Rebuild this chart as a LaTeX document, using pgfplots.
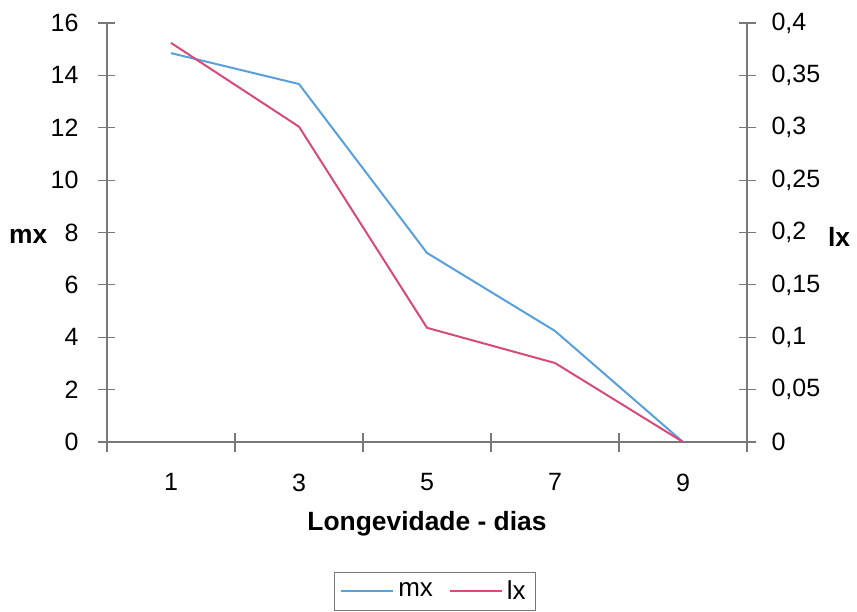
\documentclass[border=0pt]{standalone}
\usepackage{pgfplots}
\pgfplotsset{compat=1.18}
\usepackage{fontspec}
\setmainfont{Liberation Sans}
\definecolor{mxblue}{RGB}{88,160,220}
\definecolor{lxred}{RGB}{215,75,120}
\definecolor{axgray}{RGB}{120,120,120}
\begin{document}
\begin{tikzpicture}
\useasboundingbox (-53.5pt,-84.5pt) rectangle (375pt,221pt);
\pgfplotsset{
  base/.style={
    scale only axis, width=320pt, height=209.5pt,
    at={(0,0)}, anchor=south west,
    xmin=0, xmax=10,
    tick align=center,
    axis line style={axgray, line width=0.6pt},
    every tick/.style={axgray, line width=0.6pt},
    major tick length=8.5pt,
    minor tick length=9.5pt,
    /pgf/number format/assume math mode=true,
    tick label style={font=\fontsize{12.5}{14}\selectfont},
    label style={font=\bfseries\fontsize{13.2}{15}\selectfont},
  }
}
\begin{axis}[base,
  axis y line*=left, axis x line*=bottom,
  ymin=0, ymax=16, ytick={0,2,4,6,8,10,12,14,16},
  xtick={1,3,5,7,9},
  every major x tick/.style={draw=none},
  minor xtick={0,2,4,6,8,10},
  xticklabel style={yshift=-8pt},
  yticklabel style={xshift=-6.5pt},
  xlabel={Longevidade - dias},
  ylabel={mx},
  xlabel style={at={(axis description cs:0.5,-0.194)}, anchor=center},
  ylabel style={at={(axis description cs:-0.123,0.49)}, anchor=center, rotate=-90},
  legend style={at={(axis description cs:0.5125,-0.31)}, anchor=north, legend columns=-1, draw=axgray,
    font=\fontsize{13}{15}\selectfont, /tikz/every even column/.append style={column sep=6pt}},
  legend image code/.code={\draw[#1] (0pt,0pt) -- (26pt,0pt);},
]
\addplot[mxblue, line width=1pt] coordinates {(1,14.85) (3,13.67) (5,7.22) (7,4.24) (9,0)};
\addlegendentry{mx}
\addlegendimage{lxred, line width=1pt}
\addlegendentry{lx}
\end{axis}
\begin{axis}[base,
  axis y line*=right, axis x line=none,
  ymin=0, ymax=0.4, ytick={0,0.05,0.1,0.15,0.2,0.25,0.3,0.35,0.4},
  yticklabel style={xshift=4.5pt, /pgf/number format/.cd, use comma, fixed, precision=2},
  ylabel={lx},
  ylabel style={at={(axis description cs:1.144,0.49)}, anchor=center, rotate=-90},
]
\addplot[lxred, line width=1pt] coordinates {(1,0.381) (3,0.301) (5,0.109) (7,0.0754) (9,0)};
\end{axis}
\end{tikzpicture}
\end{document}
